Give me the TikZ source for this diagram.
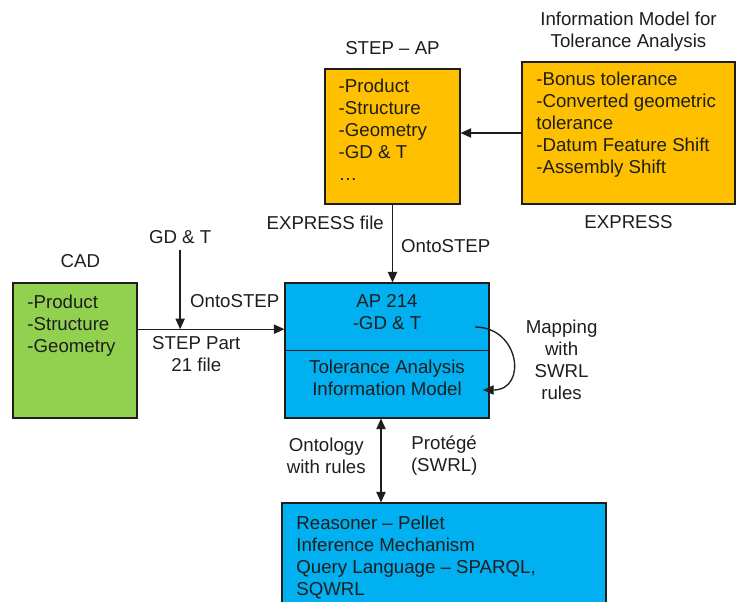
\documentclass[tikz,border=0pt]{standalone}
\usepackage{fontspec}
\setmainfont{Liberation Sans}
\usetikzlibrary{arrows.meta, positioning}
\definecolor{tolorange}{RGB}{255,192,0}
\definecolor{tolgreen}{RGB}{146,208,80}
\definecolor{tolblue}{RGB}{0,176,240}
\definecolor{toldark}{RGB}{30,30,30}

\begin{document}
\begin{tikzpicture}[
  x=0.75pt, y=-0.75pt,
  font=\fontsize{14pt}{16.5pt}\selectfont,
  box/.style={draw=toldark, line width=0.8pt, inner sep=0pt},
  orangebox/.style={box, fill=tolorange},
  greenbox/.style={box, fill=tolgreen},
  bluebox/.style={box, fill=tolblue},
  txt/.style={inner sep=0pt, text=toldark},
  lst/.style={txt, align=left},
  arr/.style={-{Triangle[length=8pt, width=7pt]}, line width=1pt, toldark},
  dblarr/.style={{Triangle[length=8pt, width=7pt]}-{Triangle[length=8pt, width=7pt]},
                 line width=1pt, toldark},
]
  \useasboundingbox (0,0) rectangle (736,601);

  % top row
  \node[orangebox, minimum width=101.25pt, minimum height=101.25pt] (stepap) at (392.5,136.5) {};
  \node[txt, above=10.5pt of stepap] (stepaptitle) {STEP – AP};
  \node[lst, below right=8pt and 10.5pt of stepap.north west] (stepaplist)
    {-Product\\-Structure\\-Geometry\\-GD \& T\\…};

  \node[orangebox, minimum width=159.75pt, minimum height=106.5pt] (infomodel) at (628.5,133) {};
  \node[txt, align=center, above=7pt of infomodel] (infotitle)
    {Information Model for\\Tolerance Analysis};
  \node[lst, below right=8pt and 11pt of infomodel.north west] (infolist)
    {-Bonus tolerance\\-Converted geometric\\tolerance\\-Datum Feature Shift\\-Assembly Shift};
  \node[txt, below=8pt of infomodel] (expresslbl) {EXPRESS};
  \draw[arr] (infomodel.west) -- (infomodel.west -| stepap.east);

  % middle row
  \node[greenbox, minimum width=93pt, minimum height=101.25pt] (cad) at (75,350.5) {};
  \node[txt, above=11pt of cad, xshift=4pt] (cadtitle) {CAD};
  \node[lst, below right=9pt and 11pt of cad.north west] (cadlist)
    {-Product\\-Structure\\-Geometry};

  \node[bluebox, minimum width=153pt, minimum height=101.25pt] (ap) at (387,350.5) {};
  \draw[toldark, line width=0.8pt] (ap.west) -- (ap.east);
  \node[txt, align=center, below=9pt of ap.north] (aptop) {AP 214\\-GD \& T};
  \node[txt, align=center, below=7pt of ap.center] (apbottom)
    {Tolerance Analysis\\Information Model};

  \draw[arr] (stepap.south) --
    node[txt, pos=0.23, left=6pt] {EXPRESS file}
    node[txt, pos=0.53, right=6pt] {OntoSTEP}
    (stepap.south |- ap.north);

  \draw[arr] ([yshift=16pt]cad.east) --
    coordinate[pos=0.29] (merge)
    node[txt, align=center, pos=0.40, below=5pt] {STEP Part\\21 file}
    ([yshift=16pt]ap.west);
  \node[txt, above=63.75pt of merge] (gdt) {GD \& T};
  \draw[arr, shorten <=4pt] (gdt) -- node[txt, pos=0.67, right=7pt] {OntoSTEP} (merge);

  % mapping loop
  \coordinate (mapfrom) at ([shift={(88,-23.5)}]ap.center);
  \coordinate (mapto) at ([shift={(96,39.5)}]ap.center);
  \draw[arr] (mapfrom) to[out=0, in=0, looseness=1.8] (mapto);
  \node[txt, align=center, right=27pt of ap, yshift=-7pt] (maplbl)
    {Mapping\\with\\SWRL\\rules};

  % bottom
  \node[bluebox, minimum width=243pt, minimum height=76.5pt] (reasoner) at (444,554) {};
  \node[lst, below right=10pt and 11pt of reasoner.north west] (reasonerlist)
    {Reasoner – Pellet\\Inference Mechanism\\Query Language – SPARQL,\\SQWRL};
  \coordinate (apfoot) at ([xshift=-4.5pt]ap.south);
  \draw[dblarr] (apfoot) --
    node[txt, align=center, pos=0.44, left=11pt] {Ontology\\with rules}
    node[txt, align=center, pos=0.44, right=22pt] {Protégé\\(SWRL)}
    (apfoot |- reasoner.north);
\end{tikzpicture}
\end{document}
